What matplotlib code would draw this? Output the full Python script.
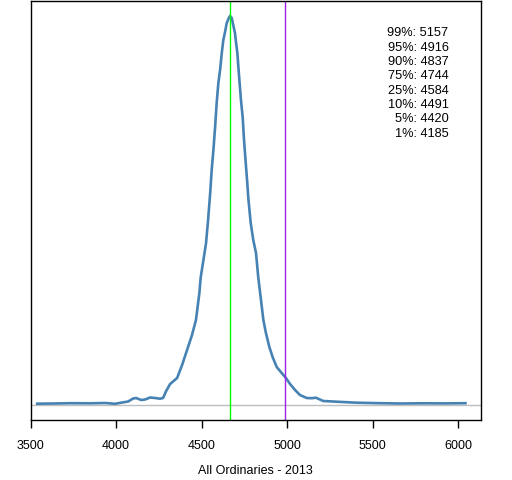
import numpy as np
import matplotlib
matplotlib.use("Agg")
import matplotlib.pyplot as plt

plt.rcParams['font.family'] = ['Liberation Sans', 'DejaVu Sans']

# density of the index level over the year
level = [3539, 3644, 3732, 3849, 3936, 3995, 4036, 4071, 4100, 4117, 4147, 4170,
         4199, 4228, 4257, 4275, 4293, 4316, 4357, 4386, 4415, 4444, 4467, 4487,
         4495, 4508, 4526, 4538, 4551, 4559, 4569, 4579, 4588, 4598, 4608, 4618,
         4627, 4637, 4647, 4659, 4666, 4676, 4685, 4695, 4701, 4709, 4715, 4720,
         4730, 4740, 4748, 4758, 4767, 4773, 4787, 4802, 4818, 4831, 4845, 4861,
         4876, 4896, 4915, 4939, 4968, 4993, 5017, 5046, 5075, 5114, 5145, 5168,
         5211, 5289, 5406, 5542, 5659, 5805, 5921, 6042]
height = [1.3, 1.5, 1.8, 1.7, 2.0, 1.2, 2.5, 3.5, 6.5, 7.0, 5.0, 5.5,
          7.5, 7.0, 6.3, 7.0, 14, 21, 27, 40, 55, 70, 85, 112,
          128, 142, 162, 185, 214, 235, 255, 278, 302, 322, 335, 352,
          365, 373, 382, 387, 389, 387, 380, 372, 363, 352, 338, 327,
          305, 288, 265, 242, 222, 207, 182, 165, 152, 128, 108, 85,
          72, 58, 48, 38, 32, 27, 21, 15, 10, 7, 6.8, 7.3,
          4, 3.3, 2.3, 1.8, 1.5, 1.7, 1.6, 1.8]
density = np.array(height) * 0.004 / 389

mode_value = 4668
last_value = 4990
q_labels = ["99%", "95%", "90%", "75%", "25%", "10%", "5%", "1%"]
q_values = [5157, 4916, 4837, 4744, 4584, 4491, 4420, 4185]

fig = plt.figure(figsize=(5.12, 4.8), dpi=100)
ax = fig.add_axes([30.5 / 512, 1 - 420 / 480, 450.5 / 512, 418.7 / 480])

ax.axhline(0, color="#BEBEBE", lw=1)
ax.plot(level, density, color="#4682B4", lw=1.9)
ax.axvline(mode_value, color="#00FF00", lw=1)
ax.axvline(last_value, color="#A020F0", lw=1)

ax.set_xlim(3500, 6133)
ax.set_ylim(-15 * 0.004 / 389, 403.7 * 0.004 / 389)
ax.set_xticks([3500, 4000, 4500, 5000, 5500, 6000])
ax.set_yticks([])
ax.tick_params(axis="x", length=6, width=1, labelsize=9, pad=8.5)
for s in ax.spines.values():
    s.set_linewidth(1)

# quantile list, one row per line
for i, (l, v) in enumerate(zip(q_labels, q_values)):
    y = 1 - (33.5 + i * 14.29) / 480
    fig.text(448.5 / 512, y, f"{l}: {v}", ha="right", va="center", fontsize=9.2)

fig.text(255 / 512, 1 - 471 / 480, "All Ordinaries - 2013", ha="center",
         va="center", fontsize=9)

fig.savefig("out.png", dpi=100)
